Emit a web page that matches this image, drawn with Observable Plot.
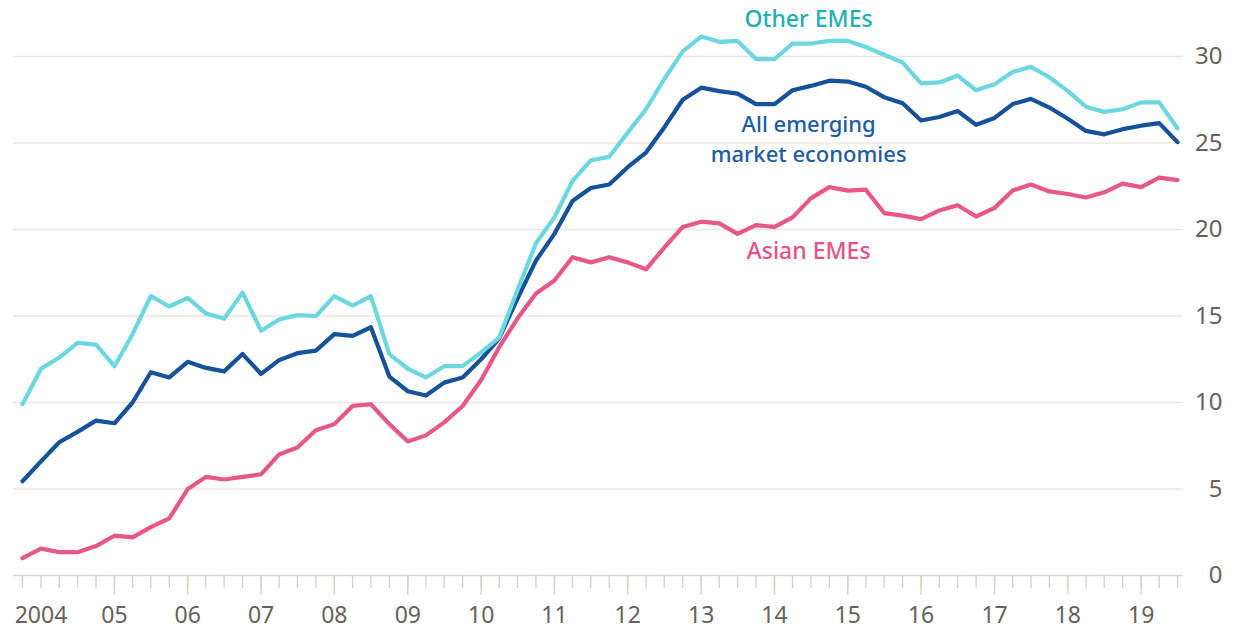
<!DOCTYPE html>
<html>
<head>
<meta charset="utf-8">
<script src="https://cdn.jsdelivr.net/npm/d3@7"></script>
<script src="https://cdn.jsdelivr.net/npm/@observablehq/plot@0.6"></script>
<style>
  html, body { margin: 0; padding: 0; background: #fff; }
  #chart { width: 1236px; height: 629px; }
</style>
</head>
<body>
<div id="chart"></div>
<script>
// ---- Data (quarterly, first quarter = 2003 Q4) ----
const firstQuarter = "2003-10-01";

const otherEMEs = [
  9.9, 11.95, 12.6, 13.45, 13.35, 12.1, 13.95, 16.15, 15.55, 16.05, 15.15, 14.85, 16.35, 14.15, 14.8, 15.05,
  15.0, 16.15, 15.6, 16.15, 12.8, 11.95, 11.45, 12.1, 12.1, 12.9, 13.75, 16.5, 19.2, 20.7, 22.8, 24.0,
  24.2, 25.6, 26.95, 28.7, 30.3, 31.15, 30.85, 30.9, 29.85, 29.85, 30.75, 30.75, 30.9, 30.9, 30.55, 30.1,
  29.65, 28.45, 28.5, 28.9, 28.05, 28.4, 29.1, 29.4, 28.8, 28.0, 27.1, 26.8, 26.95, 27.35, 27.35, 25.85
];

const allEMEs = [
  5.45, 6.6, 7.7, 8.3, 8.95, 8.8, 10.0, 11.75, 11.45, 12.35, 12.0, 11.8, 12.8, 11.65, 12.45, 12.85,
  13.0, 13.95, 13.85, 14.35, 11.5, 10.65, 10.4, 11.15, 11.45, 12.5, 13.7, 16.0, 18.2, 19.75, 21.65, 22.4,
  22.6, 23.6, 24.45, 25.9, 27.5, 28.2, 28.0, 27.85, 27.25, 27.25, 28.05, 28.3, 28.6, 28.55, 28.25, 27.65,
  27.3, 26.3, 26.5, 26.85, 26.05, 26.45, 27.25, 27.55, 27.05, 26.4, 25.7, 25.5, 25.8, 26.0, 26.15, 25.05
];

const asianEMEs = [
  1.0, 1.55, 1.35, 1.35, 1.7, 2.3, 2.2, 2.8, 3.3, 5.0, 5.7, 5.55, 5.7, 5.85, 7.0, 7.4,
  8.4, 8.75, 9.8, 9.9, 8.75, 7.75, 8.1, 8.85, 9.8, 11.3, 13.2, 14.85, 16.3, 17.05, 18.4, 18.1,
  18.4, 18.1, 17.7, 18.95, 20.15, 20.45, 20.35, 19.75, 20.25, 20.15, 20.7, 21.8, 22.45, 22.25, 22.3, 20.95,
  20.8, 20.6, 21.1, 21.4, 20.75, 21.25, 22.25, 22.6, 22.2, 22.05, 21.85, 22.15, 22.65, 22.45, 23.0, 22.85
];

const seriesNames = ["Asian EMEs", "All emerging market economies", "Other EMEs"];
const yTicks = [0, 5, 10, 15, 20, 25, 30];
const labelYears = [2004, 2005, 2006, 2007, 2008, 2009, 2010, 2011, 2012, 2013, 2014, 2015, 2016, 2017, 2018, 2019];
const majorTickYears = [2005, 2006, 2007, 2008, 2009, 2010, 2011, 2012, 2013, 2014, 2015, 2016, 2017, 2018, 2019];

// ---- Build table ----
const start = new Date(firstQuarter);
const dates = otherEMEs.map((_, i) => d3.utcMonth.offset(start, 3 * i));
const rows = [];
[asianEMEs, allEMEs, otherEMEs].forEach((arr, k) =>
  arr.forEach((v, i) => rows.push({date: dates[i], value: v, series: seriesNames[k]}))
);
const yearDate = (y) => new Date(Date.UTC(y, 0, 1));

const colors = {
  "Asian EMEs": "#e8578a",
  "All emerging market economies": "#16519b",
  "Other EMEs": "#6dd7e0"
};

const labelDate = new Date(Date.UTC(2014, 5, 20));
const axisGrey = "#66615c";
const gridColor = "#ece6e0";
const fontFamily = "'Noto Sans', sans-serif";

const chart = Plot.plot({
  width: 1236,
  height: 629,
  marginLeft: 22,
  marginRight: 59,
  marginTop: 56,
  marginBottom: 54,
  style: {fontFamily, background: "#fff", overflow: "visible"},
  x: {type: "utc", domain: [dates[0], dates[dates.length - 1]]},
  y: {domain: [0, 30]},
  marks: [
    Plot.ruleY(yTicks.filter(d => d > 0), {stroke: gridColor, strokeWidth: 1.4, insetLeft: -9, insetRight: -6}),
    Plot.ruleY([0], {stroke: "#ddd5ce", strokeWidth: 1.6, insetLeft: -9, insetRight: -6}),
    // minor quarterly ticks
    Plot.axisX(dates, {tickSize: 13, tickFormat: () => "", stroke: "#d9d2cb", strokeWidth: 1.4}),
    // major yearly ticks
    Plot.axisX(majorTickYears.map(yearDate), {tickSize: 20, tickFormat: () => "", stroke: "#d9d2cb", strokeWidth: 1.4}),
    // year labels
    Plot.axisX(labelYears.map(yearDate), {
      tickSize: 0, tickPadding: 31, fontSize: 23, fill: axisGrey, label: null,
      tickFormat: d => d.getUTCFullYear() === 2004 ? "2004" : String(d.getUTCFullYear()).slice(2)
    }),
    Plot.axisY(yTicks, {anchor: "right", tickSize: 0, tickPadding: 0, dx: 45, textAnchor: "end", fontSize: 24, fill: axisGrey, label: null, tickFormat: d => String(d)}),
    Plot.line(rows, {
      x: "date", y: "value", z: "series",
      stroke: d => colors[d.series],
      strokeWidth: 4.2, strokeLinejoin: "round", strokeLinecap: "round"
    }),
    Plot.text(["Other EMEs"], {x: labelDate, y: 32.15, text: d => d, fill: "#22aeb5", fontSize: 23, fontWeight: 500, textAnchor: "middle"}),
    Plot.text(["All emerging"], {x: labelDate, y: 26.05, text: d => d, fill: "#1d5ca6", fontSize: 22, fontWeight: 500, textAnchor: "middle"}),
    Plot.text(["market economies"], {x: labelDate, y: 24.3, text: d => d, fill: "#1d5ca6", fontSize: 22, fontWeight: 500, textAnchor: "middle"}),
    Plot.text(["Asian EMEs"], {x: labelDate, y: 18.75, text: d => d, fill: "#e5508a", fontSize: 23, fontWeight: 500, textAnchor: "middle"})
  ]
});

document.getElementById("chart").appendChild(chart);
</script>
</body>
</html>
